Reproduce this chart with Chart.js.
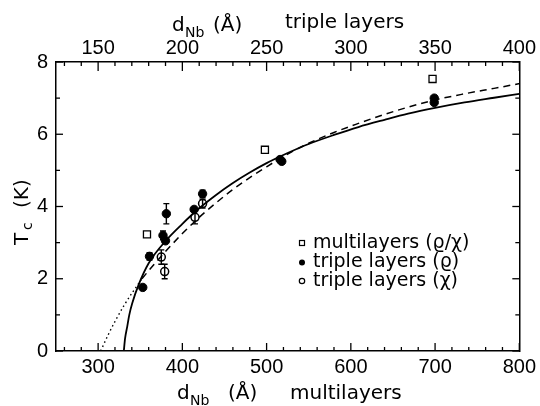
<!DOCTYPE html>
<html>
<head>
<meta charset="utf-8">
<script src="https://cdn.jsdelivr.net/npm/chart.js@4.4.1/dist/chart.umd.min.js"></script>
<style>
  html, body { margin: 0; padding: 0; background: #fff; }
  #wrap { width: 540px; height: 406px; }
</style>
</head>
<body>
<div id="wrap"><canvas id="tc-chart" width="540" height="406"></canvas></div>
<script>
/* Tc vs Nb thickness — multilayers and triple layers */

const bottomTicks = [300, 400, 500, 600, 700, 800];
const topTicks = [150, 200, 250, 300, 350, 400];
const yTicks = [0, 2, 4, 6, 8];

const legendLabels = ['multilayers (\u03F1/\u03C7)', 'triple layers (\u03F1)', 'triple layers (\u03C7)'];

// multilayers (rho/chi), open squares
const multiD = [358, 498, 697];
const multiTc = [3.23, 5.57, 7.53];

// triple layers (rho), filled circles
const rhoD = [353, 361, 377, 380, 381, 414, 424, 516, 518, 699, 699];
const rhoTc = [1.76, 2.62, 3.2, 3.05, 3.8, 3.92, 4.35, 5.3, 5.25, 7.0, 6.88];
const rhoErr = [0, 0.1, 0.12, 0, 0.28, 0, 0.1, 0, 0, 0, 0];

// triple layers (chi), open circles
const chiD = [375, 379, 415, 424];
const chiTc = [2.6, 2.2, 3.7, 4.08];
const chiErr = [0.2, 0.2, 0.18, 0.12];

// theory curves
const solidD = [330.5, 332, 334.5, 337, 340.5, 348, 360, 381, 400, 420, 440, 460, 480, 500, 525, 550, 580, 609, 640, 668, 700, 735, 770, 800];
const solidTc = [0, 0.35, 0.67, 1.0, 1.32, 1.83, 2.43, 3.07, 3.52, 3.95, 4.32, 4.65, 4.94, 5.2, 5.48, 5.73, 5.98, 6.2, 6.4, 6.57, 6.73, 6.88, 7.01, 7.12];
const dottedD = [303, 312, 321, 331, 341, 352];
const dottedTc = [0, 0.45, 0.86, 1.27, 1.63, 2.0];
const dashedD = [352, 365, 381, 400, 420, 440, 460, 480, 500, 525, 550, 580, 609, 640, 668, 700, 735, 770, 800];
const dashedTc = [2.0, 2.36, 2.78, 3.25, 3.7, 4.1, 4.47, 4.8, 5.1, 5.45, 5.75, 6.05, 6.3, 6.55, 6.75, 6.95, 7.12, 7.27, 7.4];

const pts = (xs, ys) => xs.map((x, i) => ({ x, y: ys[i] }));

const TICK_FONT = { family: 'Liberation Sans', size: 20 };
const TITLE_FONT = '20px "DejaVu Sans"';
const SUB_FONT = '14px "DejaVu Sans"';

const errorBars = {
    id: 'errorBars',
    afterDatasetsDraw(chart) {
        const { ctx, scales: { x, y } } = chart;
        ctx.save();
        ctx.strokeStyle = '#000';
        ctx.lineWidth = 1.4;
        chart.data.datasets.forEach(ds => {
            if (!ds.yErr) return;
            ds.data.forEach((p, i) => {
                const e = ds.yErr[i];
                if (!e) return;
                const px = x.getPixelForValue(p.x);
                const y1 = y.getPixelForValue(p.y - e);
                const y2 = y.getPixelForValue(p.y + e);
                ctx.beginPath();
                ctx.moveTo(px, y1); ctx.lineTo(px, y2);
                ctx.moveTo(px - 3, y1); ctx.lineTo(px + 3, y1);
                ctx.moveTo(px - 3, y2); ctx.lineTo(px + 3, y2);
                ctx.stroke();
            });
        });
        ctx.restore();
    },
};

const inwardTicks = {
    id: 'inwardTicks',
    afterDraw(chart) {
        const { ctx, chartArea: a, scales } = chart;
        const line = (x1, y1, x2, y2) => { ctx.beginPath(); ctx.moveTo(x1, y1); ctx.lineTo(x2, y2); ctx.stroke(); };
        ctx.save();
        ctx.strokeStyle = '#000';
        ctx.lineWidth = 1.3;
        for (let v = 260; v <= 800; v += 20) {
            const px = scales.x.getPixelForValue(v);
            line(px, a.bottom, px, a.bottom - (v % 100 === 0 ? 8 : 4));
        }
        for (let v = 130; v <= 400; v += 10) {
            const px = scales.x2.getPixelForValue(v);
            line(px, a.top, px, a.top + (v % 50 === 0 ? 9 : 4));
        }
        for (let v = 0; v <= 8; v += 1) {
            const py = scales.y.getPixelForValue(v);
            const len = v % 2 === 0 ? 7 : 4;
            line(a.left, py, a.left + len, py);
            line(a.right, py, a.right - len, py);
        }
        ctx.restore();
    },
};

const titlesAndLegend = {
    id: 'titlesAndLegend',
    afterDraw(chart) {
        const { ctx } = chart;
        ctx.save();
        ctx.fillStyle = '#000';
        ctx.textBaseline = 'alphabetic';
        ctx.textAlign = 'left';

        // top title
        ctx.font = TITLE_FONT;
        ctx.fillText('d', 172, 31);
        ctx.font = SUB_FONT;
        ctx.fillText('Nb', 185, 37);
        ctx.font = TITLE_FONT;
        ctx.fillText('(\u00C5)', 213, 31);
        ctx.fillText('triple layers', 285, 28);

        // bottom title
        ctx.fillText('d', 177, 399);
        ctx.font = SUB_FONT;
        ctx.fillText('Nb', 190, 405);
        ctx.font = TITLE_FONT;
        ctx.fillText('(\u00C5)', 228, 399);
        ctx.fillText('multilayers', 290, 399);

        // y title, rotated
        ctx.save();
        ctx.translate(28, 245);
        ctx.rotate(-Math.PI / 2);
        ctx.fillText('T', 0, 0);
        ctx.font = SUB_FONT;
        ctx.fillText('c', 15, 4);
        ctx.font = TITLE_FONT;
        ctx.fillText('(K)', 37, 0);
        ctx.restore();

        // legend
        const rows = [243, 262.5, 281];
        const mx = 302;
        ctx.lineWidth = 1.2;
        ctx.strokeStyle = '#000';
        ctx.strokeRect(mx - 2.5, rows[0] - 2.5, 5, 5);
        ctx.beginPath(); ctx.arc(mx, rows[1], 3, 0, Math.PI * 2); ctx.fill();
        ctx.beginPath(); ctx.arc(mx, rows[2], 2.7, 0, Math.PI * 2); ctx.stroke();
        ctx.font = '19px "DejaVu Sans"';
        ctx.textBaseline = 'middle';
        legendLabels.forEach((t, i) => ctx.fillText(t, 313, rows[i]));
        ctx.restore();
    },
};

new Chart(document.getElementById('tc-chart').getContext('2d'), {
    type: 'scatter',
    data: {
        datasets: [
            {
                label: 'solid fit', type: 'line', data: pts(solidD, solidTc),
                borderColor: '#000', borderWidth: 1.8, pointRadius: 0,
                cubicInterpolationMode: 'monotone', fill: false,
            },
            {
                label: 'dotted fit', type: 'line', data: pts(dottedD, dottedTc),
                borderColor: '#000', borderWidth: 1.4, borderDash: [1.5, 3], pointRadius: 0,
                cubicInterpolationMode: 'monotone', fill: false,
            },
            {
                label: 'dashed fit', type: 'line', data: pts(dashedD, dashedTc),
                borderColor: '#000', borderWidth: 1.5, borderDash: [7, 5], pointRadius: 0,
                cubicInterpolationMode: 'monotone', fill: false,
            },
            {
                label: legendLabels[0], data: pts(multiD, multiTc),
                pointStyle: 'rect', pointRadius: 5, backgroundColor: '#fff', borderColor: '#000', borderWidth: 1.3,
            },
            {
                label: legendLabels[1], data: pts(rhoD, rhoTc), yErr: rhoErr,
                pointStyle: 'circle', pointRadius: 4.2, backgroundColor: '#000', borderColor: '#000', borderWidth: 1,
            },
            {
                label: legendLabels[2], data: pts(chiD, chiTc), yErr: chiErr,
                pointStyle: 'circle', pointRadius: 4, backgroundColor: '#fff', borderColor: '#000', borderWidth: 1.5,
            },
        ],
    },
    options: {
        responsive: false,
        devicePixelRatio: 1,
        animation: false,
        layout: { padding: 0 },
        plugins: { legend: { display: false }, tooltip: { enabled: false } },
        scales: {
            x: {
                type: 'linear', position: 'bottom', min: 250, max: 800,
                afterBuildTicks: s => { s.ticks = bottomTicks.map(v => ({ value: v })); },
                afterFit: s => { s.height = 55; },
                grid: { drawOnChartArea: false, drawTicks: false },
                border: { color: '#000', width: 1.5 },
                ticks: { color: '#000', font: TICK_FONT, padding: 4, maxRotation: 0, autoSkip: false },
            },
            x2: {
                type: 'linear', position: 'top', min: 125, max: 400,
                afterBuildTicks: s => { s.ticks = topTicks.map(v => ({ value: v })); },
                afterFit: s => { s.height = 62; },
                grid: { drawOnChartArea: false, drawTicks: false },
                border: { color: '#000', width: 1.5 },
                ticks: { color: '#000', font: TICK_FONT, padding: 2, maxRotation: 0, autoSkip: false },
            },
            y: {
                type: 'linear', position: 'left', min: 0, max: 8,
                afterBuildTicks: s => { s.ticks = yTicks.map(v => ({ value: v })); },
                afterFit: s => { s.width = 56; },
                grid: { drawOnChartArea: false, drawTicks: false },
                border: { color: '#000', width: 1.5 },
                ticks: { color: '#000', font: TICK_FONT, padding: 8 },
            },
            y2: {
                type: 'linear', position: 'right', min: 0, max: 8,
                afterFit: s => { s.width = 18; },
                grid: { drawOnChartArea: false, drawTicks: false },
                border: { color: '#000', width: 1.5 },
                ticks: { display: false },
            },
        },
    },
    plugins: [errorBars, inwardTicks, titlesAndLegend],
});
</script>
</body>
</html>
